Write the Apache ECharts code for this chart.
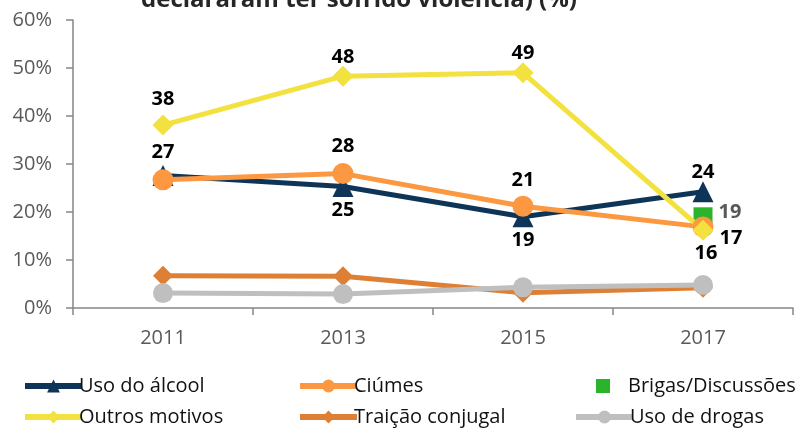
<!DOCTYPE html>
<html>
<head>
<meta charset="utf-8">
<script src="https://cdn.jsdelivr.net/npm/echarts@6/dist/echarts.min.js"></script>
<style>
  html, body { margin: 0; padding: 0; background: #fff; }
  #chart { width: 800px; height: 430px; }
</style>
</head>
<body>
<div id="chart"></div>
<script>
const years = ['2011', '2013', '2015', '2017'];

const usoAlcool = [27.6, 25.3, 19.0, 24.2];
const ciumes = [26.7, 28.0, 21.2, 16.9];
const brigas = [null, null, null, 19.0];
const outrosMotivos = [38.1, 48.3, 49.0, 16.2];
const traicao = [6.7, 6.6, 3.2, 4.2];
const usoDrogas = [3.1, 2.9, 4.3, 4.8];

const alcoolLabels = ['27', '25', '19', '24'];
const ciumesLabels = [null, '28', '21', '17'];
const brigasLabels = [null, null, null, '19'];
const outrosLabels = ['38', '48', '49', '16'];

const FONT = '"Open Sans", sans-serif';

const labelBase = {
  show: true,
  position: 'inside',
  fontFamily: FONT,
  fontWeight: 'bold',
  fontSize: 20,
  color: '#000'
};

// label offsets are measured from the point centre
function withLabels(values, texts, offsets, extra) {
  return values.map((v, i) => {
    if (texts[i] == null) return { value: v, label: { show: false } };
    return {
      value: v,
      label: Object.assign({}, labelBase, extra || {}, {
        offset: offsets[i],
        formatter: texts[i]
      })
    };
  });
}

let chart = echarts.init(document.getElementById('chart'));

let lineSeries = (name, data, color, symbol, size) => ({
  name: name,
  type: 'line',
  data: data,
  symbol: symbol,
  symbolSize: size,
  itemStyle: { color: color },
  lineStyle: { color: color, width: 5 },
  label: { show: false },
  emphasis: { disabled: true },
  animation: false
});

let legendText = (pad) => ({ fontFamily: FONT, fontSize: 20, color: '#111', padding: [0, 0, 0, pad] });

let legendItem = (name, left, top, extra) => Object.assign({
  data: [name],
  left: left,
  top: top,
  itemWidth: 57,
  itemHeight: 16,
  itemGap: 0,
  lineStyle: { width: 6 },
  textStyle: legendText(-8),
  selectedMode: false
}, extra || {});

let option = {
  backgroundColor: '#fff',
  graphic: [{
    type: 'text',
    x: 359,
    y: 12,
    style: {
      text: 'declararam ter sofrido violência) (%)',
      font: 'bold 24px ' + FONT,
      fill: '#262626',
      align: 'center',
      verticalAlign: 'bottom'
    }
  }],
  grid: { left: 73, right: 7, top: 20, bottom: 122 },
  xAxis: {
    type: 'category',
    data: years,
    boundaryGap: true,
    axisLine: { lineStyle: { color: '#868686', width: 1.5 } },
    axisTick: { show: true, interval: 0, length: 7, lineStyle: { color: '#868686', width: 1.5 } },
    axisLabel: { fontFamily: FONT, fontSize: 20, color: '#595959', margin: 20 }
  },
  yAxis: {
    type: 'value',
    min: 0,
    max: 60,
    interval: 10,
    axisLine: { show: true, lineStyle: { color: '#868686', width: 1.5 } },
    axisTick: { show: true, length: 7, lineStyle: { color: '#868686', width: 1.5 } },
    splitLine: { show: false },
    axisLabel: { fontFamily: FONT, fontSize: 20, color: '#595959', margin: 21, formatter: '{value}%' }
  },
  legend: [
    legendItem('Uso do álcool', 17, 371),
    legendItem('Ciúmes', 292, 371),
    legendItem('Brigas/Discussões', 591, 371, { itemWidth: 14, itemHeight: 14, icon: 'rect', textStyle: legendText(13) }),
    legendItem('Outros motivos', 17, 402),
    legendItem('Traição conjugal', 292, 402),
    legendItem('Uso de drogas', 568, 402)
  ],
  series: [
    lineSeries('Uso do álcool', withLabels(usoAlcool, alcoolLabels, [
      [0, -23], [0, 24], [0, 23], [0, -20]
    ]), '#0E3557', 'triangle', 21),
    lineSeries('Ciúmes', withLabels(ciumes, ciumesLabels, [
      null, [0, -27], [0, -26], [28, 11]
    ]), '#FB9841', 'circle', 21),
    lineSeries('Traição conjugal', traicao, '#DD8036', 'diamond', 20),
    lineSeries('Uso de drogas', usoDrogas, '#BFBFBF', 'circle', 20),
    lineSeries('Outros motivos', withLabels(outrosMotivos, outrosLabels, [
      [0, -26], [0, -19], [0, -20], [3, 23]
    ]), '#F2E13F', 'diamond', 21),
    {
      name: 'Brigas/Discussões',
      type: 'scatter',
      data: withLabels(brigas, brigasLabels, [null, null, null, [27, -5]], { color: '#595959' }),
      symbol: 'rect',
      symbolSize: 19,
      itemStyle: { color: '#2BB32B', opacity: 1 },
      emphasis: { disabled: true },
      animation: false
    }
  ]
};

chart.setOption(option);
</script>
</body>
</html>
